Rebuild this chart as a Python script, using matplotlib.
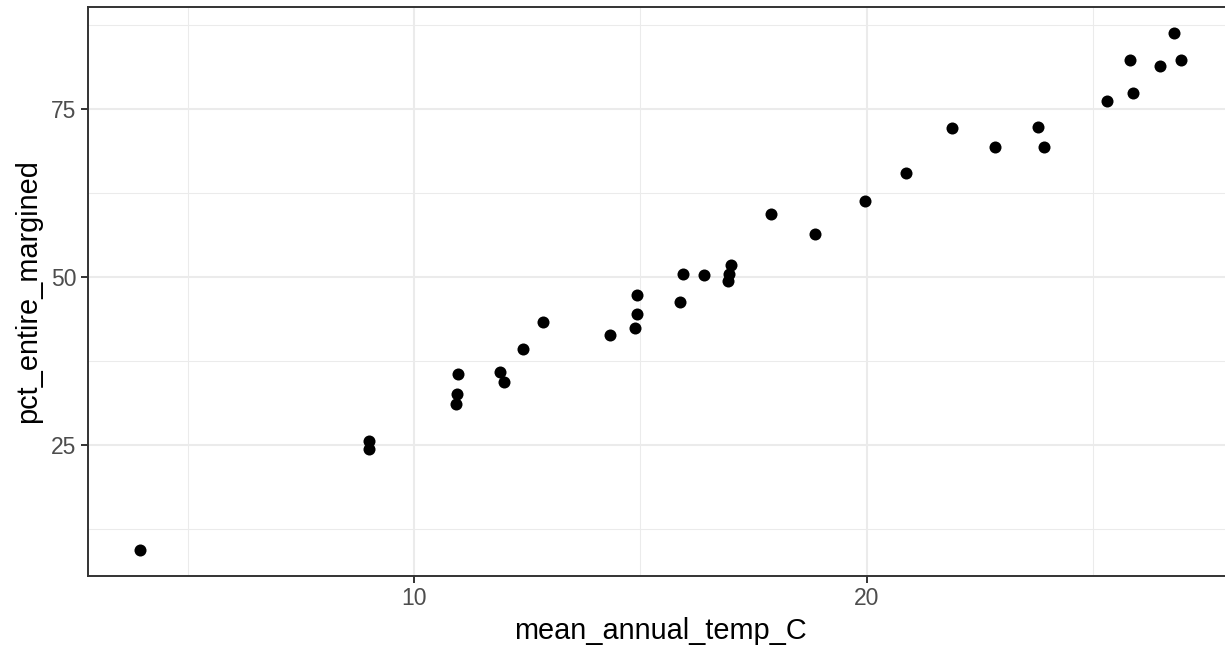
import matplotlib
matplotlib.use("Agg")
import matplotlib.pyplot as plt
from matplotlib.ticker import MultipleLocator
import numpy as np

# values
mean_annual_temp_C = [3.94, 9.0, 9.0, 10.97, 10.94, 10.92, 11.90, 11.98, 12.41,
                      12.86, 14.34, 14.89, 14.93, 14.93, 15.87, 15.94, 16.40,
                      16.93, 16.95, 17.01, 17.88, 18.85,
                      19.97, 20.86, 21.89, 22.83, 23.79, 23.91, 25.30, 25.81,
                      25.88, 26.47, 26.79, 26.94]
pct_entire_margined = [9.3, 25.6, 24.3, 35.5, 32.6, 31.1, 35.8, 34.4, 39.3,
                       43.3, 41.3, 42.4, 44.45, 47.3, 46.3, 50.4, 50.3,
                       49.3, 50.4, 51.7, 59.35, 56.3,
                       61.3, 65.4, 72.2, 69.3, 72.3, 69.3, 76.2, 82.2,
                       77.3, 81.3, 86.3, 82.3]

plt.rcParams["font.family"] = ["Liberation Sans", "DejaVu Sans"]

fig = plt.figure(figsize=(12.25, 6.49), dpi=100)
W, H = 1225, 649
# panel runs a little past the right edge of the picture, as in the reference
ax = fig.add_axes([87.5 / W, 1 - 576 / H, (1233 - 87.5) / W, (576 - 7) / H])

ax.scatter(mean_annual_temp_C, pct_entire_margined, s=75, color="black",
           linewidths=0, zorder=3)

# ggplot-style 5% expansion
x = np.array(mean_annual_temp_C)
y = np.array(pct_entire_margined)
xr = x.max() - x.min()
yr = y.max() - y.min()
ax.set_xlim(x.min() - 0.05 * xr, x.max() + 0.05 * xr)
ax.set_ylim(y.min() - 0.05 * yr, y.max() + 0.05 * yr)

ax.xaxis.set_major_locator(MultipleLocator(10))
ax.xaxis.set_minor_locator(MultipleLocator(5))
ax.yaxis.set_major_locator(MultipleLocator(25))
ax.yaxis.set_minor_locator(MultipleLocator(12.5))

ax.grid(which="major", color="#EBEBEB", linewidth=1.5, zorder=0)
ax.grid(which="minor", color="#EBEBEB", linewidth=0.75, zorder=0)
ax.set_axisbelow(True)

for sp in ax.spines.values():
    sp.set_color("#333333")
    sp.set_linewidth(1.4)

ax.tick_params(which="major", length=5, width=1.4, color="#333333",
               labelcolor="#4D4D4D", labelsize=16.5, pad=3)
ax.tick_params(which="minor", length=0)

ax.set_xlabel("mean_annual_temp_C", fontsize=20.8, color="black", labelpad=5)
ax.set_ylabel("pct_entire_margined", fontsize=20.8, color="black", labelpad=6)

fig.savefig("out.png", dpi=100)
